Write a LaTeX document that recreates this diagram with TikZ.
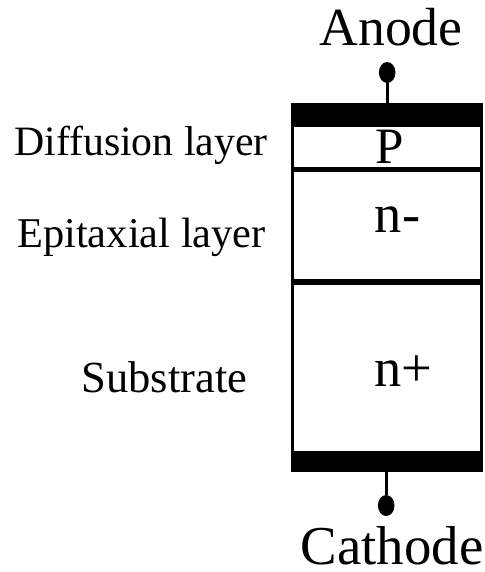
\documentclass[tikz,border=0pt]{standalone}
\usepackage{fontspec}
\setmainfont{Liberation Serif}
\usetikzlibrary{shapes.geometric}
\newcommand{\fs}[1]{\fontsize{#1}{#1}\selectfont}
\tikzset{
  metal/.style={fill=black,draw=none},
  layerbox/.style={draw=black,line width=3.4pt,fill=white},
  lead/.style={draw=black,line width=2.6pt},
  terminal/.style={ellipse,fill=black,inner sep=0pt,minimum width=16.6pt,minimum height=21pt},
  lbl/.style={inner sep=0pt,anchor=base}
}
\begin{document}
\begin{tikzpicture}[x=1pt,y=-1pt]
\useasboundingbox (0,0) rectangle (484,572);
\fill[white] (0,0) rectangle (484,572);
\draw[layerbox] (292.7,110) rectangle (481.3,460);
\draw[line width=5.4pt] (291,169.4) -- (483,169.4);
\draw[line width=6.5pt] (291,282) -- (483,282);
\fill[metal] (291,103) rectangle (483,126.7);
\fill[metal] (291,451) rectangle (483,472);
\node[terminal] (aterm) at (387.2,72.5) {};
\node[terminal] (cterm) at (386.2,505.5) {};
\coordinate (atop) at (387.2,103);
\coordinate (cbot) at (386.2,472);
\draw[lead] (aterm) -- (atop);
\draw[lead] (cterm) -- (cbot);
\node[lbl,font=\fs{53.7}] (anode) at (391,45.5) {Anode};
\node[lbl,font=\fs{54.8}] (cathode) at (392,564.5) {Cathode};
\node[lbl,font=\fs{41.8}] (diff) at (141,156) {Diffusion layer};
\node[lbl,font=\fs{42.4}] (epi) at (141.5,247) {Epitaxial layer};
\node[lbl,font=\fs{44.5}] (sub) at (164.5,392) {Substrate};
\node[lbl,font=\fs{51}] (p) at (389.5,164) {P};
\node[lbl,font=\fs{54.5}] (nm) at (397.5,232) {n-};
\node[lbl,font=\fs{54.5}] (np) at (403.5,386) {n+};
\end{tikzpicture}
\end{document}
